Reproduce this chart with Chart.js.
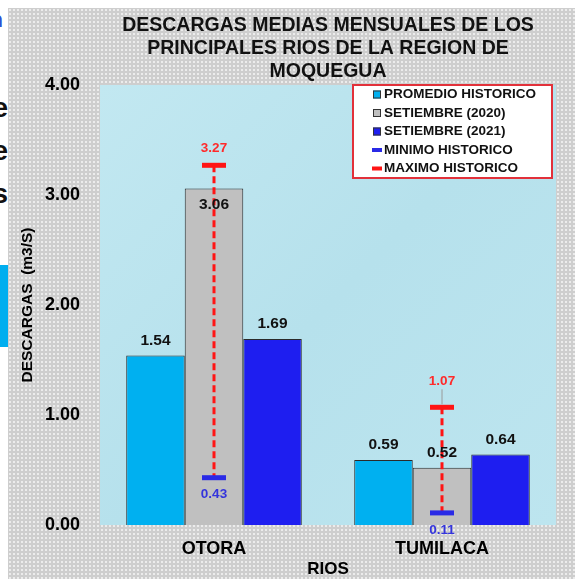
<!DOCTYPE html>
<html>
<head>
<meta charset="utf-8">
<script src="https://cdn.jsdelivr.net/npm/chart.js@4.4.1/dist/chart.umd.min.js"></script>
<style>
  html, body { margin: 0; padding: 0; background: #fff; }
  #wrap { position: relative; width: 575px; height: 579px; overflow: hidden; background: #fff; }
  #frame { position: absolute; left: 8px; top: 8px; right: 0; bottom: 0;
    background-color: #cecece;
    background-image: radial-gradient(circle, #ececec 0.9px, rgba(236,236,236,0) 1.4px);
    background-size: 4px 4px; }
  #strip { position: absolute; left: 0; top: 0; width: 8px; height: 579px; overflow: hidden; }
  #strip span { position: absolute; font-family: 'Liberation Sans', Arial, sans-serif; font-weight: bold; line-height: 28px; font-size: 28px; color: #111; }
  #c { position: absolute; left: 0; top: 0; }
</style>
</head>
<body>
<div id="wrap">
  <div id="frame"></div>
  <div id="strip">
    <span style="right:5px; top:6px; color:#2f4fd2; font-size:22px;">n</span>
    <span style="right:0; top:94px;">e</span>
    <span style="right:0; top:137px;">e</span>
    <span style="right:0; top:180px;">s</span>
    <div style="position:absolute; left:0; top:265px; width:8px; height:82px; background:#00aeef;"></div>
  </div>
  <canvas id="c" width="575" height="579"></canvas>
</div>
<script>
// ---- data ----
const categories = ['OTORA', 'TUMILACA'];
const promedioHistorico = [1.54, 0.59];
const setiembre2020 = [3.06, 0.52];
const setiembre2021 = [1.69, 0.64];
const minimoHistorico = [0.43, 0.11];
const maximoHistorico = [3.27, 1.07];
const yTickValues = [0, 1, 2, 3, 4];
const titleLines = ['DESCARGAS MEDIAS MENSUALES DE LOS', 'PRINCIPALES RIOS DE LA REGION DE', 'MOQUEGUA'];

const FONT = "'Liberation Sans', Arial, sans-serif";
Chart.defaults.font.family = FONT;
Chart.defaults.color = '#000';

const COL_PROM = '#00b0f0';
const COL_2020 = '#c0c0c0';
const COL_2021 = '#1e1ef0';
const COL_MIN = '#2a2ae6';
const COL_MAX = '#ff1414';

const plotBg = {
  id: 'plotBg',
  beforeDraw(chart) {
    const { ctx, chartArea: a } = chart;
    ctx.save();
    const g = ctx.createLinearGradient(a.left, a.top, a.right, a.bottom);
    g.addColorStop(0, '#c2e8f1');
    g.addColorStop(0.5, '#b6e1ec');
    g.addColorStop(1, '#bde5ef');
    ctx.fillStyle = g;
    ctx.fillRect(a.left, a.top, a.right - a.left, a.bottom - a.top);
    ctx.restore();
  }
};

let rangeDrawn = false;
const rangeLines = {
  id: 'rangeLines',
  beforeDraw() { rangeDrawn = false; },
  beforeDatasetDraw(chart, args) {
    if (rangeDrawn || args.meta.type !== 'line') return;
    rangeDrawn = true;
    const { ctx } = chart;
    const y = chart.scales.y, x = chart.scales.x;
    ctx.save();
    ctx.strokeStyle = COL_MAX;
    ctx.lineWidth = 3;
    ctx.setLineDash([7, 4]);
    categories.forEach((c, i) => {
      const px = x.getPixelForValue(i);
      ctx.beginPath();
      ctx.moveTo(px, y.getPixelForValue(maximoHistorico[i]));
      ctx.lineTo(px, y.getPixelForValue(minimoHistorico[i]));
      ctx.stroke();
    });
    ctx.restore();
  }
};

const valueLabels = {
  id: 'valueLabels',
  afterDraw(chart, args, opts) {
    const { ctx } = chart;
    const ys = chart.scales.y;
    ctx.save();
    ctx.textAlign = 'center';
    ctx.textBaseline = 'middle';
    ctx.font = 'bold 15.5px ' + FONT;
    ctx.fillStyle = '#111';
    [0, 1, 2].forEach(di => {
      const meta = chart.getDatasetMeta(di);
      meta.data.forEach((el, i) => {
        const v = chart.data.datasets[di].data[i];
        const maxPx = ys.getPixelForValue(maximoHistorico[i]);
        const markerX = chart.scales.x.getPixelForValue(i);
        const inside = Math.abs(el.x - markerX) < el.width / 2 && (el.y - maxPx) < 35;
        ctx.fillText(v.toFixed(2), el.x, inside ? el.y + 16 : el.y - 15);
      });
    });
    ctx.font = 'bold 13.5px ' + FONT;
    const maxMeta = chart.getDatasetMeta(4);
    maxMeta.data.forEach((pt, i) => {
      const gap = opts.maxGap[i];
      if (gap > 20) {
        ctx.save();
        ctx.strokeStyle = '#9a9a9a';
        ctx.lineWidth = 1;
        ctx.beginPath();
        ctx.moveTo(pt.x, pt.y - 3);
        ctx.lineTo(pt.x, pt.y - gap + 8);
        ctx.stroke();
        ctx.restore();
      }
      ctx.fillStyle = '#ff2a2a';
      ctx.fillText(maximoHistorico[i].toFixed(2), pt.x, pt.y - gap);
    });
    const minMeta = chart.getDatasetMeta(3);
    minMeta.data.forEach((pt, i) => {
      ctx.fillStyle = '#3434dc';
      ctx.fillText(minimoHistorico[i].toFixed(2), pt.x, pt.y + 17);
    });
    ctx.restore();
  }
};

const boxLegend = {
  id: 'boxLegend',
  afterDraw(chart, args, o) {
    const { ctx } = chart;
    ctx.save();
    ctx.fillStyle = '#fff';
    ctx.fillRect(o.x, o.y, o.w, o.h);
    ctx.strokeStyle = '#e2313a';
    ctx.lineWidth = 2;
    ctx.strokeRect(o.x, o.y, o.w, o.h);
    ctx.font = 'bold 13.5px ' + FONT;
    ctx.textBaseline = 'middle';
    ctx.textAlign = 'left';
    chart.data.datasets.forEach((ds, i) => {
      const cy = o.y + o.first + i * o.step;
      const mx = o.x + 20;
      if (ds.type === 'line') {
        ctx.strokeStyle = ds.borderColor;
        ctx.lineWidth = 4;
        ctx.beginPath();
        ctx.moveTo(mx - 1, cy);
        ctx.lineTo(mx + 9, cy);
        ctx.stroke();
      } else {
        ctx.fillStyle = ds.backgroundColor;
        ctx.fillRect(mx, cy - 4, 8, 8);
        ctx.strokeStyle = '#333';
        ctx.lineWidth = 1;
        ctx.strokeRect(mx + 0.5, cy - 3.5, 7, 7);
      }
      ctx.fillStyle = '#111';
      ctx.fillText(ds.label, o.x + 31, cy);
    });
    ctx.restore();
  }
};

new Chart(document.getElementById('c'), {
  type: 'bar',
  data: {
    labels: categories,
    datasets: [
      { label: 'PROMEDIO HISTORICO', data: promedioHistorico, backgroundColor: COL_PROM, borderColor: '#2a2a2a', borderWidth: 1, categoryPercentage: 0.77, barPercentage: 1, order: 1 },
      { label: 'SETIEMBRE (2020)', data: setiembre2020, backgroundColor: COL_2020, borderColor: '#2a2a2a', borderWidth: 1, categoryPercentage: 0.77, barPercentage: 1, order: 1 },
      { label: 'SETIEMBRE (2021)', data: setiembre2021, backgroundColor: COL_2021, borderColor: '#2a2a2a', borderWidth: 1, categoryPercentage: 0.77, barPercentage: 1, order: 1 },
      { type: 'line', label: 'MINIMO HISTORICO', data: minimoHistorico, showLine: false, borderColor: COL_MIN, backgroundColor: COL_MIN, pointStyle: 'line', pointRadius: 12, pointHoverRadius: 12, pointBorderWidth: 5, pointHoverBorderWidth: 5, order: -1 },
      { type: 'line', label: 'MAXIMO HISTORICO', data: maximoHistorico, showLine: false, borderColor: COL_MAX, backgroundColor: COL_MAX, pointStyle: 'line', pointRadius: 12, pointHoverRadius: 12, pointBorderWidth: 5, pointHoverBorderWidth: 5, order: -1 }
    ]
  },
  options: {
    responsive: false,
    animation: false,
    events: [],
    layout: { padding: { left: 8, right: 19, top: 0, bottom: 0 } },
    plugins: {
      legend: { display: false },
      tooltip: { enabled: false },
      title: {
        display: true, fullSize: false,
        text: titleLines, color: '#111',
        font: { size: 19.5, weight: 'bold', lineHeight: '23px' },
        padding: { top: 14, bottom: 2 }
      },
      valueLabels: { maxGap: [17, 26] },
      boxLegend: { x: 353, y: 85, w: 199, h: 93, first: 9.5, step: 18.5 }
    },
    scales: {
      x: {
        grid: { display: false, drawTicks: false },
        border: { display: false },
        ticks: { color: '#000', font: { size: 18, weight: 'bold' }, padding: 13 },
        title: { display: true, text: 'RIOS', color: '#000', font: { size: 17, weight: 'bold', lineHeight: 1 }, padding: { top: 0, bottom: 1 } },
        afterFit(s) { s.height = 54; }
      },
      y: {
        min: 0, max: 4,
        afterBuildTicks(s) { s.ticks = yTickValues.map(v => ({ value: v })); },
        grid: { display: false, drawTicks: false },
        border: { display: false },
        ticks: { color: '#000', font: { size: 18, weight: 'bold' }, padding: 20, callback: v => Number(v).toFixed(2) },
        title: { display: true, text: 'DESCARGAS  (m3/S)', color: '#000', font: { size: 15.5, weight: 'bold' }, padding: { top: 10, bottom: 0 } },
        afterFit(s) { s.width = 92; }
      }
    }
  },
  plugins: [plotBg, rangeLines, valueLabels, boxLegend]
});
</script>
</body>
</html>
